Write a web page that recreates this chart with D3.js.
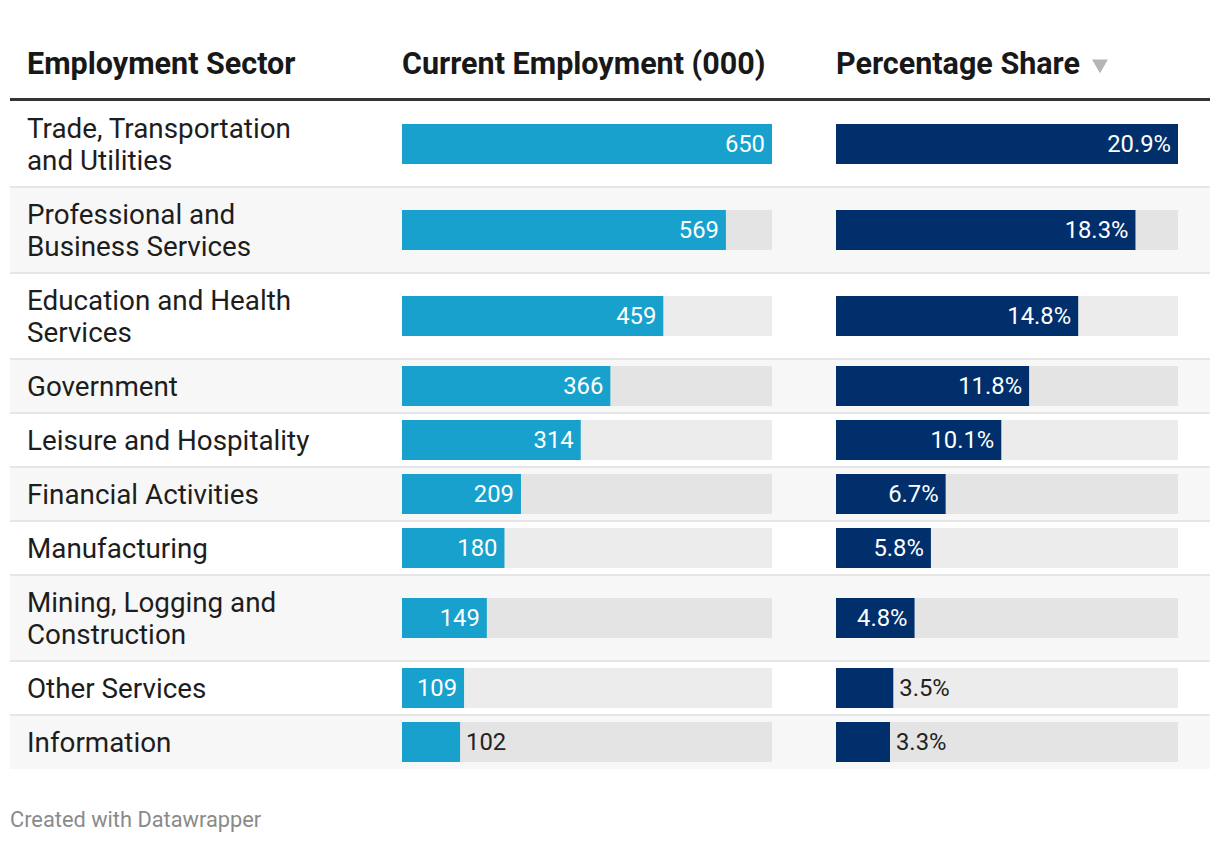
<!DOCTYPE html>
<html>
<head>
<meta charset="utf-8">
<script src="https://cdn.jsdelivr.net/npm/d3@7"></script>
<style>
  body { margin: 0; background: #fff; }
  svg { display: block; font-family: Roboto, sans-serif; }
</style>
</head>
<body>
<div id="chart"></div>
<script>
// table content
const sectors = [
  'Trade, Transportation and Utilities',
  'Professional and Business Services',
  'Education and Health Services',
  'Government',
  'Leisure and Hospitality',
  'Financial Activities',
  'Manufacturing',
  'Mining, Logging and Construction',
  'Other Services',
  'Information'
]
const employment = [650, 569, 459, 366, 314, 209, 180, 149, 109, 102]
const share = [20.9, 18.3, 14.8, 11.8, 10.1, 6.7, 5.8, 4.8, 3.5, 3.3]
const headers = ['Employment Sector', 'Current Employment (000)', 'Percentage Share']
const footer = 'Created with Datawrapper'

const W = 1220, H = 844
const left = 10, right = 1210
const tableTop = 101
const lineH = 32
const col1X = 27, col2X = 402, col3X = 836
const wrapWidth = 295
const bodySize = 27.8

const svg = d3.select('#chart')
  .append('svg')
    .attr('width', W)
    .attr('height', H)

// header
const head = svg.append('g')
head.selectAll('text')
  .data(headers)
  .enter()
  .append('text')
    .attr('x', (d, i) => [col1X, col2X, col3X][i])
    .attr('y', 74)
    .attr('font-size', 30.5)
    .attr('font-weight', 700)
    .attr('fill', '#181818')
    .text(d => d)

// sort arrow after last header
const lastHead = head.selectAll('text').nodes()[2]
const hb = lastHead.getBBox()
svg.append('path')
  .attr('d', d3.symbol(d3.symbolTriangle, 110)())
  .attr('transform', `translate(${hb.x + hb.width + 20}, 64) rotate(180)`)
  .attr('fill', '#b5b5b5')

svg.append('rect')
  .attr('x', left).attr('y', 98)
  .attr('width', right - left).attr('height', 3)
  .attr('fill', '#333')

// wrap labels by measuring
const measure = svg.append('text').attr('font-size', bodySize).attr('visibility', 'hidden')
function wrap (str) {
  const words = str.split(' ')
  const lines = []
  let cur = ''
  words.forEach(w => {
    const test = cur ? cur + ' ' + w : w
    measure.text(test)
    if (measure.node().getComputedTextLength() > wrapWidth && cur) {
      lines.push(cur)
      cur = w
    } else {
      cur = test
    }
  })
  lines.push(cur)
  return lines
}

const rows = sectors.map((s, i) => ({ name: s, lines: wrap(s), emp: employment[i], share: share[i], i }))
measure.remove()

let y0 = tableTop
rows.forEach(r => {
  r.y = y0
  r.h = 22 + r.lines.length * lineH
  r.cy = y0 + r.h / 2
  y0 += r.h
})

const xEmp = d3.scaleLinear()
  .domain([0, d3.max(employment)])
  .range([0, 370])

const xShare = d3.scaleLinear()
  .domain([0, d3.max(share)])
  .range([0, 342])

const barH = 40

const row = svg.append('g')
  .selectAll('g')
  .data(rows)
  .enter()
  .append('g')

row.append('rect')
  .attr('x', left).attr('y', d => d.y)
  .attr('width', right - left).attr('height', d => d.h)
  .attr('fill', d => d.i % 2 ? '#f7f7f7' : '#fff')

row.filter(d => d.i > 0)
  .append('rect')
    .attr('x', left).attr('y', d => d.y - 1)
    .attr('width', right - left).attr('height', 2)
    .attr('fill', '#e6e6e6')

row.each(function (d) {
  const t = d3.select(this).append('text')
    .attr('font-size', bodySize)
    .attr('fill', '#1d1d1d')
  t.selectAll('tspan')
    .data(d.lines)
    .enter()
    .append('tspan')
      .attr('x', col1X)
      .attr('y', (l, k) => d.cy + (k - (d.lines.length - 1) / 2) * lineH)
      .attr('dy', '0.35em')
      .text(l => l)
})

function barColumn (x0, scale, key, color, fmt) {
  const full = scale.range()[1]
  row.append('rect')
    .attr('x', x0).attr('y', d => d.cy - barH / 2)
    .attr('width', full).attr('height', barH)
    .attr('fill', 'rgba(0,0,0,0.075)')

  row.append('rect')
    .attr('x', x0).attr('y', d => d.cy - barH / 2)
    .attr('width', d => scale(d[key])).attr('height', barH)
    .attr('fill', color)

  row.append('text')
    .attr('font-size', 23.8)
    .attr('y', d => d.cy)
    .attr('dy', '0.35em')
    .text(d => fmt(d[key]))
    .each(function (d) {
      const w = this.getComputedTextLength()
      const bw = scale(d[key])
      const inside = bw > w + 20
      d3.select(this)
        .attr('x', inside ? x0 + bw - 7 : x0 + bw + 6)
        .attr('text-anchor', inside ? 'end' : 'start')
        .attr('fill', inside ? '#fff' : '#222')
    })
}

barColumn(col2X, xEmp, 'emp', '#18a1cd', d => d)
barColumn(col3X, xShare, 'share', '#002f6c', d => d.toFixed(1) + '%')

svg.append('text')
  .attr('x', left)
  .attr('y', 827)
  .attr('font-size', 21.8)
  .attr('fill', '#8a8a8a')
  .text(footer)
</script>
</body>
</html>
